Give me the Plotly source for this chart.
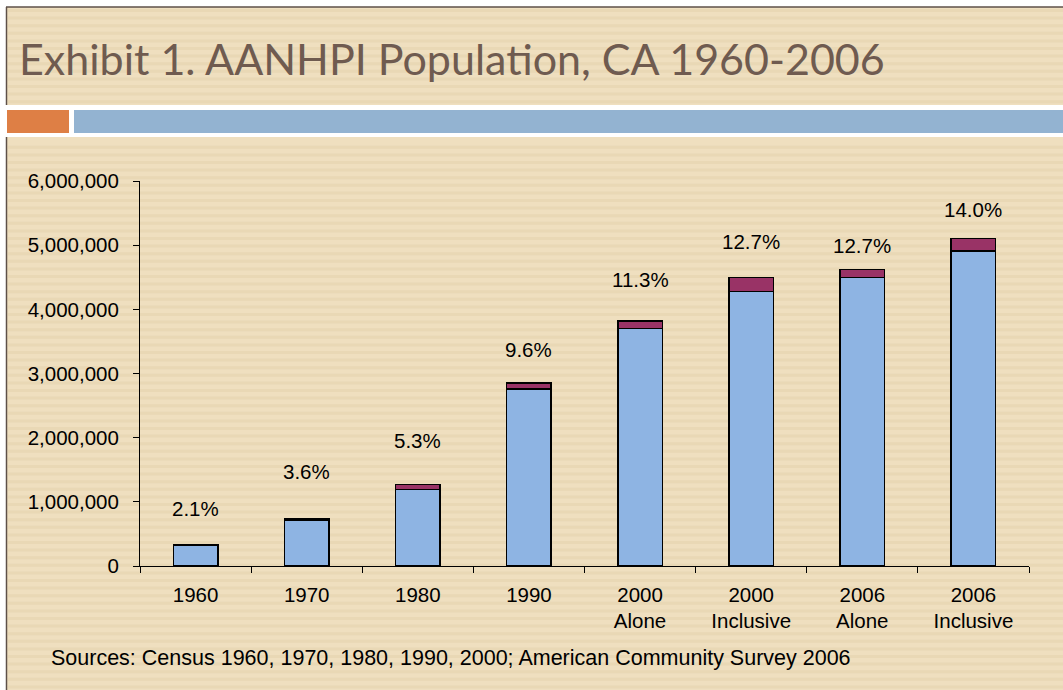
import plotly.graph_objects as go

# ---- data ----
categories = ["1960", "1970", "1980", "1990", "2000<br>Alone", "2000<br>Inclusive", "2006<br>Alone", "2006<br>Inclusive"]
asian_values = [330000, 710000, 1190000, 2760000, 3700000, 4280000, 4500000, 4910000]
nhpi_values = [0, 20000, 77000, 90000, 120000, 220000, 120000, 197000]
pct_labels = ["2.1%", "3.6%", "5.3%", "9.6%", "11.3%", "12.7%", "12.7%", "14.0%"]
label_y = [900000, 1470000, 1960000, 3380000, 4470000, 5060000, 5000000, 5560000]
y_ticks = [0, 1000000, 2000000, 3000000, 4000000, 5000000, 6000000]
y_tick_labels = ["0", "1,000,000", "2,000,000", "3,000,000", "4,000,000", "5,000,000", "6,000,000"]
title_text = "Exhibit 1. AANHPI Population, CA 1960-2006"
source_text = "Sources: Census 1960, 1970, 1980, 1990, 2000; American Community Survey 2006"

W, H = 1063, 690
L, R, T, B = 140, 1029, 181, 566


def px(x):
    return (x - L) / (R - L)


def py(y):
    return (B - y) / (B - T)


BEIGE = "#EFDFBF"
FONT = "Liberation Sans, Arial, sans-serif"
FS = 20.5

fig = go.Figure()
fig.add_trace(go.Bar(x=categories, y=asian_values, name="Asian",
                     marker=dict(color="#8EB4E3", line=dict(color="black", width=1.5)),
                     width=0.4))
fig.add_trace(go.Bar(x=categories, y=nhpi_values, name="NHPI",
                     marker=dict(color="#993366", line=dict(color="black", width=1.5)),
                     width=0.4))

shapes = []
# beige backgrounds
shapes.append(dict(type="rect", xref="paper", yref="paper", x0=px(7), x1=px(W + 5), y0=py(105), y1=py(7),
                   fillcolor=BEIGE, line=dict(width=0), layer="below"))
shapes.append(dict(type="rect", xref="paper", yref="paper", x0=px(7), x1=px(W + 5), y0=py(H + 5), y1=py(137),
                   fillcolor=BEIGE, line=dict(width=0), layer="below"))
# stripes
yy = 9.0
while yy < H:
    if not (103 < yy < 139):
        shapes.append(dict(type="rect", xref="paper", yref="paper", x0=px(8), x1=px(W + 5),
                           y0=py(yy + 3), y1=py(yy), fillcolor="rgba(214,192,146,0.22)",
                           line=dict(width=0), layer="below"))
    yy += 7.6
# orange and blue bands
shapes.append(dict(type="rect", xref="paper", yref="paper", x0=px(7), x1=px(69), y0=py(133), y1=py(110),
                   fillcolor="#DE7F45", line=dict(width=0), layer="below"))
shapes.append(dict(type="rect", xref="paper", yref="paper", x0=px(74), x1=px(W + 5), y0=py(133), y1=py(110),
                   fillcolor="#93B3D1", line=dict(width=0), layer="below"))
# borders
shapes.append(dict(type="line", xref="paper", yref="paper", x0=px(6.5), x1=px(6.5), y0=py(105), y1=py(7),
                   line=dict(color="#5E5048", width=1.5), layer="below"))
shapes.append(dict(type="line", xref="paper", yref="paper", x0=px(6.5), x1=px(6.5), y0=py(H + 5), y1=py(137),
                   line=dict(color="#5E5048", width=1.5), layer="below"))
shapes.append(dict(type="line", xref="paper", yref="paper", x0=px(6), x1=px(W + 5), y0=py(7), y1=py(7),
                   line=dict(color="#5E5048", width=1.5), layer="below"))

annotations = []
for i, (t, ly) in enumerate(zip(pct_labels, label_y)):
    annotations.append(dict(x=i, y=ly, xref="x", yref="y", text=t, showarrow=False,
                            font=dict(family=FONT, size=FS, color="black")))
annotations.append(dict(x=px(17), y=py(58), xref="paper", yref="paper", text=title_text, showarrow=False,
                        xanchor="left", yanchor="middle",
                        font=dict(family="Lato, Open Sans, sans-serif", size=43, color="#6F5B50")))
annotations.append(dict(x=px(49), y=py(658), xref="paper", yref="paper", text=source_text, showarrow=False,
                        xanchor="left", yanchor="middle",
                        font=dict(family=FONT, size=21.5, color="black")))

fig.update_layout(
    width=W, height=H,
    margin=dict(l=L, r=W - R, t=T, b=H - B, pad=0),
    barmode="stack",
    showlegend=False,
    paper_bgcolor="white",
    plot_bgcolor="rgba(0,0,0,0)",
    shapes=shapes,
    annotations=annotations,
    xaxis=dict(type="category", showline=True, linecolor="black", linewidth=1,
               ticks="outside", tickson="boundaries", ticklen=6, tickcolor="black",
               ticklabelstandoff=10,
               tickfont=dict(family=FONT, size=FS, color="black"), showgrid=False, zeroline=False,
               tickangle=0),
    yaxis=dict(range=[0, 6000000], tickvals=y_ticks, ticktext=y_tick_labels,
               showline=True, linecolor="black", linewidth=1,
               ticks="outside", ticklen=6, tickcolor="black", showgrid=False, zeroline=False,
               ticklabelstandoff=10,
               tickfont=dict(family=FONT, size=FS, color="black")),
)

fig.write_html("out.html", config={"displayModeBar": False},
               post_script="document.body.style.margin='0';document.body.style.overflow='hidden';")
